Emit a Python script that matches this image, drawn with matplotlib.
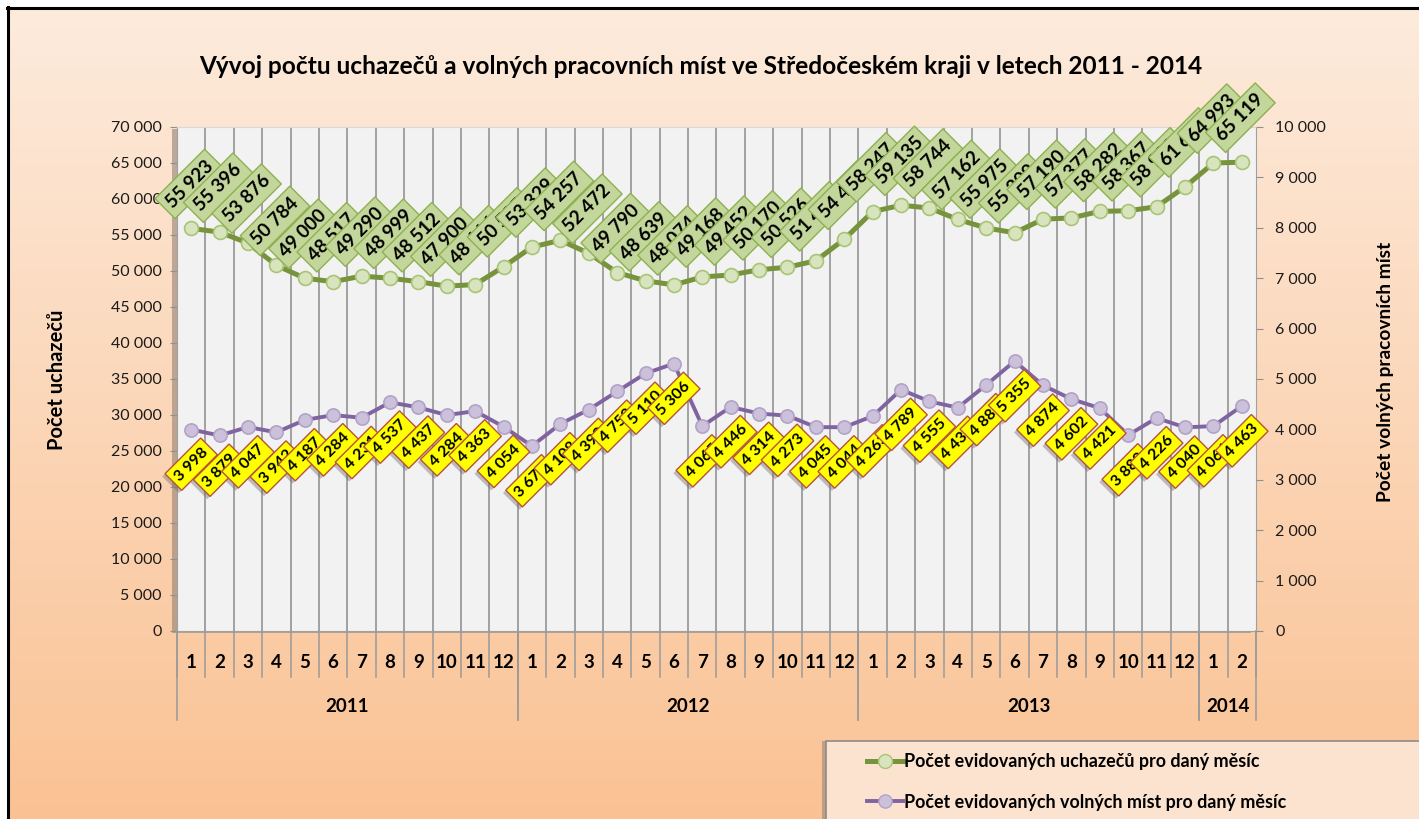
import numpy as np
import matplotlib.pyplot as plt
from matplotlib.lines import Line2D
from matplotlib.patches import Rectangle
from matplotlib.transforms import blended_transform_factory

plt.rcParams['font.family'] = ['Lato', 'DejaVu Sans']

# data
month_labels = ["1", "2", "3", "4", "5", "6", "7", "8", "9", "10", "11", "12",
                "1", "2", "3", "4", "5", "6", "7", "8", "9", "10", "11", "12",
                "1", "2", "3", "4", "5", "6", "7", "8", "9", "10", "11", "12",
                "1", "2"]
years = ["2011", "2012", "2013", "2014"]
year_counts = [12, 12, 12, 2]

uchazeci = [55923, 55396, 53876, 50784, 49000, 48517, 49290, 48999, 48512, 47900, 48116, 50585,
            53329, 54257, 52472, 49790, 48639, 48074, 49168, 49452, 50170, 50526, 51424, 54413,
            58247, 59135, 58744, 57162, 55975, 55309, 57190, 57377, 58282, 58367, 58930, 61684,
            64993, 65119]
volna_mista = [3998, 3879, 4047, 3942, 4187, 4284, 4231, 4537, 4437, 4284, 4363, 4054,
               3671, 4108, 4392, 4753, 5110, 5306, 4065, 4446, 4314, 4273, 4045, 4044,
               4263, 4789, 4555, 4432, 4883, 5355, 4874, 4602, 4421, 3888, 4226, 4040,
               4066, 4463]

title = "Vývoj počtu uchazečů a volných pracovních míst ve Středočeském kraji v letech 2011 - 2014"
label_green = "Počet evidovaných uchazečů pro daný měsíc"
label_purple = "Počet evidovaných volných míst pro daný měsíc"

W, H = 1419, 819
fig = plt.figure(figsize=(W / 100, H / 100), dpi=100)
fig.patch.set_facecolor('white')

# peach gradient background
bg = fig.add_axes([8 / W, 0, 1 - 8 / W, 1 - 8 / H], zorder=-10)
top_c = np.array([253, 235, 220]) / 255
bot_c = np.array([250, 194, 148]) / 255
t = np.linspace(0, 1, 256)[:, None]
grad = top_c[None, :] * (1 - t) + bot_c[None, :] * t
bg.imshow(grad[:, None, :].repeat(2, axis=1), aspect='auto', extent=[0, 1, 0, 1])
bg.axis('off')
fig.add_artist(Line2D([7 / W, 1], [1 - 8 / H, 1 - 8 / H], color='black', lw=2.2))
fig.add_artist(Line2D([8 / W, 8 / W], [0, 1 - 7 / H], color='black', lw=2.2))

x0, x1 = 177 / W, 1256 / W
y0, y1 = 1 - 631 / H, 1 - 127 / H
fig.add_artist(Rectangle((x0 - 5 / W, y0 - 2 / H), x1 - x0, y1 - y0,
                         facecolor='#8a7a70', alpha=0.55, zorder=-5))

ax = fig.add_axes([x0, y0, x1 - x0, y1 - y0])
ax.set_facecolor('#F2F2F2')
x = np.arange(len(uchazeci))
ax.set_xlim(-0.5, len(x) - 0.5)
ax.set_ylim(0, 70000)
ax.set_yticks(np.arange(0, 70001, 5000))
ax.set_yticklabels([f"{v:,}".replace(",", " ") for v in range(0, 70001, 5000)])
ax.set_xticks([])
ax.tick_params(axis='y', direction='out', length=5, color='#909090',
               labelsize=11.5, labelcolor='#1a1a1a', pad=6)
for s in ax.spines.values():
    s.set_color('#A0A0A0')
ax.spines['top'].set_color('#D8D8D8')
ax.vlines(np.arange(0.5, len(x) - 0.5), 0, 70000, color='#8C8C8C', lw=1.1, zorder=1)

ax.plot(x, uchazeci, color='#77933C', lw=3.6, marker='o', ms=10,
        mfc='#D7E4BD', mec='#A9C476', mew=1.2, zorder=3)
for xi, v in zip(x, uchazeci):
    ax.annotate(f"{v:,}".replace(",", " "), (xi, v), xytext=(-1, 32), textcoords='offset points',
                ha='center', va='center', rotation=45, rotation_mode='anchor',
                fontsize=13.5, fontweight='bold', color='black', zorder=4,
                bbox=dict(boxstyle='square,pad=0.3', fc='#C3D69B', ec='#8FB050', lw=1))

ax2 = ax.twinx()
ax2.set_ylim(0, 10000)
ax2.set_yticks(np.arange(0, 10001, 1000))
ax2.set_yticklabels([f"{v:,}".replace(",", " ") for v in range(0, 10001, 1000)])
ax2.tick_params(axis='y', direction='out', length=5, color='#909090',
                labelsize=11.5, labelcolor='#1a1a1a', pad=9)
for s in ax2.spines.values():
    s.set_visible(False)
ax2.plot(x, volna_mista, color='#8064A2', lw=2.8, marker='o', ms=9.5,
         mfc='#CCC1DA', mec='#B3A2C7', mew=1.2, zorder=3)
for xi, v in zip(x, volna_mista):
    txt = f"{v:,}".replace(",", " ")
    ax2.annotate(txt, (xi, v), xytext=(-2, -27), textcoords='offset points',
                 ha='center', va='center', rotation=45, rotation_mode='anchor',
                 fontsize=11.5, fontweight='bold', color=(0, 0, 0, 0), zorder=4,
                 bbox=dict(boxstyle='square,pad=0.3', fc='#6a6a6a', ec='none', alpha=0.4))
    ax2.annotate(txt, (xi, v), xytext=(0, -25), textcoords='offset points',
                 ha='center', va='center', rotation=45, rotation_mode='anchor',
                 fontsize=11.5, fontweight='bold', color='black', zorder=5,
                 bbox=dict(boxstyle='square,pad=0.3', fc='#FFFF00', ec='#B5533C', lw=1))

# two-level category axis
tr = blended_transform_factory(ax.transData, ax.transAxes)
for b in np.arange(-0.5, len(x)):
    ax.add_artist(Line2D([b, b], [0, -46 / 504], transform=tr, color='#9A9A9A',
                         lw=1.1, clip_on=False))
for xi, lab in zip(x, month_labels):
    ax.text(xi, -31 / 504, lab, transform=tr, ha='center', va='center',
            fontsize=13.5, fontweight='bold', color='black')
start = -0.5
for yr, n in zip(years, year_counts):
    for b in (start, start + n):
        ax.add_artist(Line2D([b, b], [0, -89 / 504], transform=tr, color='#9A9A9A',
                             lw=1.1, clip_on=False))
    ax.text(start + n / 2, -76 / 504, yr, transform=tr, ha='center', va='center',
            fontsize=13.5, fontweight='bold', color='black')
    start += n

fig.text(701 / W, 1 - 66 / H, title, ha='center', va='center',
         fontsize=17.6, fontweight='bold', color='black')
fig.text(57 / W, 1 - 380 / H, "Počet uchazečů", rotation=90, ha='center', va='center',
         fontsize=14.5, fontweight='bold', color='black')
fig.text(1385 / W, 1 - 372 / H, "Počet volných pracovních míst", rotation=90,
         ha='center', va='center', fontsize=13.8, fontweight='bold', color='black')

# legend box
fig.add_artist(Rectangle((822 / W, -20 / H), 620 / W, 98 / H,
                         facecolor='#8a7a70', alpha=0.5, zorder=5))
fig.add_artist(Rectangle((826 / W, -20 / H), 620 / W, 98 / H,
                         facecolor='#FCE3CF', edgecolor='#8C8C8C', lw=1.2, zorder=6))
handles = [Line2D([], [], color='#77933C', lw=3.6, marker='o', ms=10,
                  mfc='#D7E4BD', mec='#A9C476'),
           Line2D([], [], color='#8064A2', lw=2.8, marker='o', ms=9.5,
                  mfc='#CCC1DA', mec='#B3A2C7')]
leg = fig.legend(handles, [label_green, label_purple], loc='center left',
                 bbox_to_anchor=(851 / W, 1 - 782 / H), frameon=False,
                 prop={'size': 12.9, 'weight': 'bold'}, handlelength=2.0,
                 handletextpad=0.05, labelspacing=1.3)
leg.set_zorder(7)

fig.savefig("out.png", dpi=100)
